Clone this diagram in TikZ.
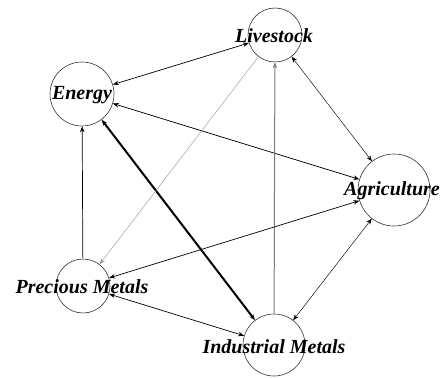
\documentclass[tikz,border=0pt]{standalone}
\usepackage{fontspec}
\setmainfont{Liberation Serif}
\usepackage{tikz}
\usetikzlibrary{arrows.meta}
\definecolor{edgegray}{HTML}{7A7A7A}
\definecolor{lightedge}{HTML}{9A9A9A}
\tikzset{
  vertex/.style={draw=black!80,line width=0.6pt,circle,inner sep=0pt},
  lbl/.style={font=\fontsize{20}{22}\selectfont\bfseries\itshape,inner sep=0pt},
  ar/.style={-{Stealth[length=6pt,width=4.5pt]},line width=0.7pt},
  dar/.style={{Stealth[length=6pt,width=4.5pt]}-{Stealth[length=6pt,width=4.5pt]},line width=0.7pt},
  fine/.style={line width=0.45pt}
}
\begin{document}
\begin{tikzpicture}[x=1pt,y=-1pt]
\useasboundingbox (0,0) rectangle (441,377);
% circles
\node[vertex,minimum size=54pt] (live) at (275,35) {};
\node[vertex,minimum size=64pt] (energy) at (82,94) {};
\node[vertex,minimum size=72pt] (agri) at (394,190) {};
\node[vertex,minimum size=54pt] (prec) at (83,286) {};
\node[vertex,minimum size=62pt] (indu) at (274,345) {};
% edges
\draw[dar] (energy) -- (live);
\draw[dar] (energy) -- (agri);
\draw[dar,line width=2pt] (energy) -- (indu);
\draw[ar] (prec) -- (energy);
\draw[ar,fine,lightedge] (live) -- (prec);
\draw[ar,edgegray,line width=1pt] (indu) -- (live);
\draw[dar,fine] (live) -- (agri);
\draw[dar] (prec) -- (agri);
\draw[dar] (prec) -- (indu);
\draw[dar,fine] (indu) -- (agri);
% labels
\node[lbl] at (274,36) {Livestock};
\node[lbl] at (82,95) {Energy};
\node[lbl] at (392,191) {Agriculture};
\node[lbl] at (82,287) {Precious Metals};
\node[lbl] at (274,347) {Industrial Metals};
\end{tikzpicture}
\end{document}
